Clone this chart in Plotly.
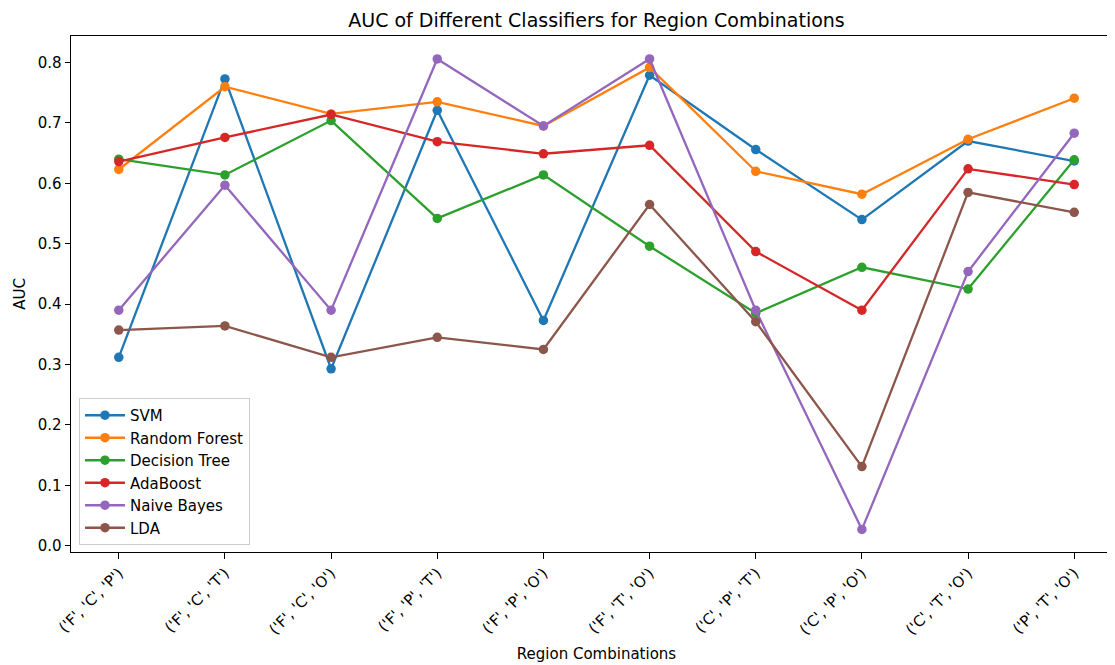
import plotly.graph_objects as go

categories = ["('F', 'C', 'P')", "('F', 'C', 'T')", "('F', 'C', 'O')", "('F', 'P', 'T')",
              "('F', 'P', 'O')", "('F', 'T', 'O')", "('C', 'P', 'T')", "('C', 'P', 'O')",
              "('C', 'T', 'O')", "('P', 'T', 'O')"]

svm = [0.312, 0.773, 0.293, 0.721, 0.373, 0.779, 0.656, 0.540, 0.670, 0.637]
random_forest = [0.623, 0.760, 0.715, 0.735, 0.695, 0.792, 0.620, 0.582, 0.673, 0.741]
decision_tree = [0.640, 0.614, 0.704, 0.542, 0.614, 0.496, 0.385, 0.461, 0.425, 0.639]
adaboost = [0.636, 0.676, 0.714, 0.669, 0.649, 0.663, 0.487, 0.390, 0.624, 0.598]
naive_bayes = [0.390, 0.597, 0.390, 0.806, 0.695, 0.806, 0.390, 0.027, 0.454, 0.683]
lda = [0.357, 0.364, 0.312, 0.345, 0.325, 0.565, 0.371, 0.131, 0.585, 0.552]

y_ticks = [0.0, 0.1, 0.2, 0.3, 0.4, 0.5, 0.6, 0.7, 0.8]
y_tick_labels = ["0.0", "0.1", "0.2", "0.3", "0.4", "0.5", "0.6", "0.7", "0.8"]

series = [
    ("SVM", svm, "#1f77b4"),
    ("Random Forest", random_forest, "#ff7f0e"),
    ("Decision Tree", decision_tree, "#2ca02c"),
    ("AdaBoost", adaboost, "#d62728"),
    ("Naive Bayes", naive_bayes, "#9467bd"),
    ("LDA", lda, "#8c564b"),
]

FONT = "DejaVu Sans"
W, H = 1115, 665
ML, MR, MT, MB = 63, 1, 28, 121

fig = go.Figure()
xs = list(range(len(categories)))
for name, vals, color in series:
    fig.add_trace(go.Scatter(
        x=xs, y=vals, mode="lines+markers", name=name,
        line=dict(color=color, width=2.3),
        marker=dict(color=color, size=9.5),
    ))

fig.update_layout(
    width=W, height=H,
    margin=dict(l=ML, r=MR, t=MT, b=MB, autoexpand=False),
    plot_bgcolor="white", paper_bgcolor="white",
    font=dict(family=FONT, size=15, color="black"),
    title=dict(text="AUC of Different Classifiers for Region Combinations",
               x=588.5 / W, xanchor="center", y=1 - 12 / H, yanchor="middle",
               font=dict(family=FONT, size=19, color="black")),
    showlegend=True,
    legend=dict(x=0.0076, y=0.0136, xanchor="left", yanchor="bottom",
                bgcolor="rgba(255,255,255,0.8)", bordercolor="#cccccc", borderwidth=1,
                font=dict(family=FONT, size=15, color="black"),
                itemwidth=40),
)
fig.update_xaxes(
    range=[-0.45, 9.45], tickmode="array", tickvals=xs, ticktext=categories,
    tickangle=-45, ticks="outside", ticklen=5.4, tickwidth=1.2, tickcolor="black",
    showline=True, linecolor="black", linewidth=1.2, mirror=True,
    showgrid=False, zeroline=False, automargin=False,
    title=dict(text="Region Combinations", standoff=10, font=dict(size=15)),
    tickfont=dict(size=15),
)
fig.update_yaxes(
    range=[-0.0104, 0.844], tickmode="array", tickvals=y_ticks, ticktext=y_tick_labels,
    ticks="outside", ticklen=5.4, tickwidth=1.2, tickcolor="black",
    showline=True, linecolor="black", linewidth=1.2, mirror=True,
    showgrid=False, zeroline=False, automargin=False,
    title=dict(text="AUC", standoff=8, font=dict(size=15)),
    tickfont=dict(size=15),
)
fig.write_html("out.html")
